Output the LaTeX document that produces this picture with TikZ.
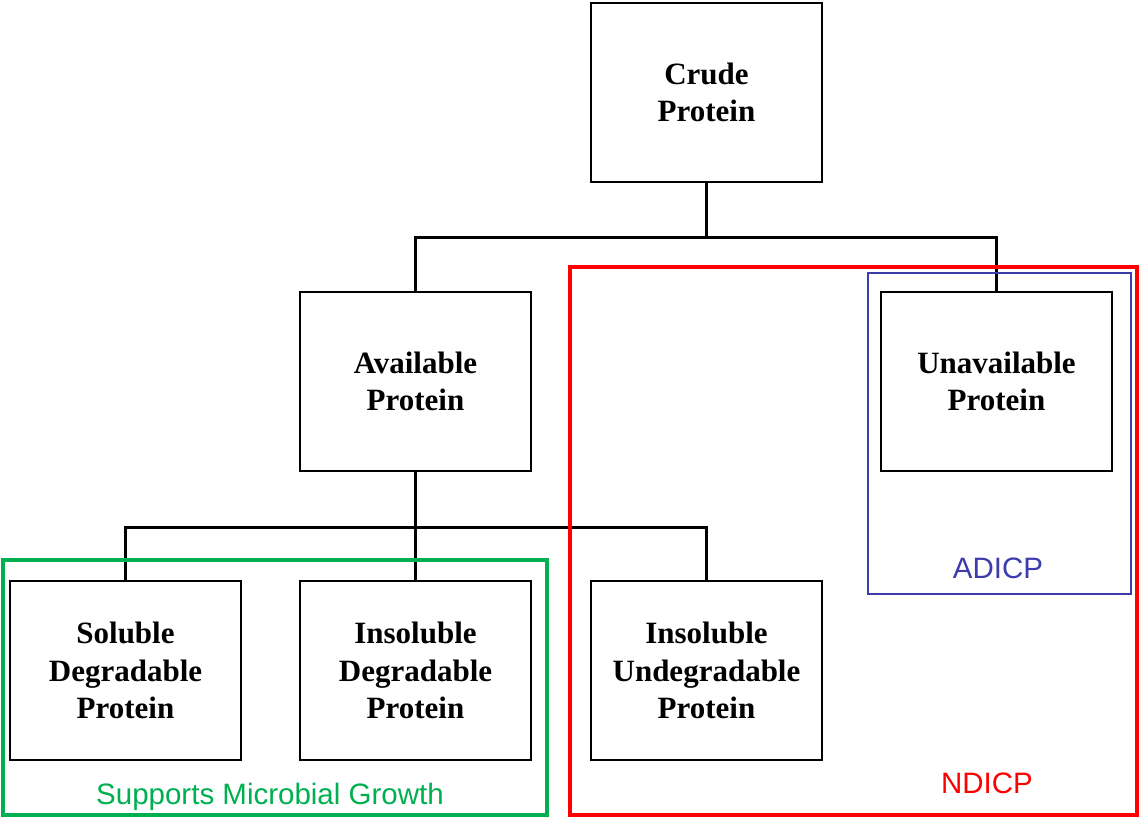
\documentclass[tikz,border=0pt]{standalone}
\usepackage{fontspec}
\usepackage{tikz}
\setmainfont{Liberation Serif}
\newfontfamily\grouplabelfont{Liberation Sans}
\usetikzlibrary{positioning}
\tikzset{box/.style = {draw, line width=0.75pt, minimum width=115.5pt, minimum height=89.5pt,
                       align=center, inner sep=0, font=\fontsize{15.5}{18.75}\selectfont\bfseries}}
\tikzset{link/.style = {line width=1.5pt}}
\tikzset{grouplabel/.style = {font=\grouplabelfont\fontsize{14.75}{17}\selectfont, inner sep=0}}
\definecolor{mgreen}{RGB}{0, 176, 80}
\definecolor{mred}{RGB}{255, 0, 0}
\definecolor{mblue}{RGB}{60, 60, 170}

\begin{document}
\begin{tikzpicture}[x=0.5pt, y=-0.5pt]
      \useasboundingbox (0, 0) rectangle (1140, 832);

      \node [box] (crude) at (706.5, 92.5) {Crude\\Protein};
      \node [box] (avail) at (415.5, 381.5) {Available\\Protein};
      \node [box] (unavail) at (996.5, 381.5) {Unavailable\\Protein};
      \node [box] (soldeg) at (125.5, 670.5) {Soluble\\Degradable\\Protein};
      \node [box] (insdeg) at (415.5, 670.5) {Insoluble\\Degradable\\Protein};
      \node [box] (insundeg) at (706.5, 670.5) {Insoluble\\Undegradable\\Protein};

      \coordinate (bar1) at (706.5, 237);
      \coordinate (bar2) at (415.5, 527);
      \draw [link] (crude.south) -- (bar1);
      \draw [link] (avail.north) |- (bar1) -| (unavail.north);
      \draw [link] (avail.south) -- (insdeg.north);
      \draw [link] (soldeg.north) |- (bar2) -| (insundeg.north);

      \draw [mgreen, line width=2pt] (3, 560) rectangle (547, 815);
      \draw [mred, line width=1.75pt] (570, 267) rectangle (1137, 815);
      \draw [mblue, line width=1pt] (868, 273) rectangle (1131, 594);
      \node [grouplabel, mgreen] (growth) at (270, 797) {Supports Microbial Growth};
      \node [grouplabel, mblue] (adicp) at (998, 568) {ADICP};
      \node [grouplabel, mred] (ndicp) at (987, 783) {NDICP};
    \end{tikzpicture}
\end{document}
